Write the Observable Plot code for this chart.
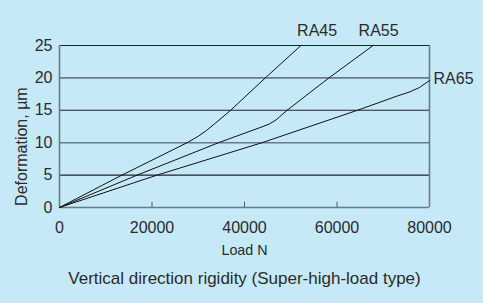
<!DOCTYPE html>
<html>
<head>
<meta charset="utf-8">
<script src="https://cdn.jsdelivr.net/npm/d3@7"></script>
<script src="https://cdn.jsdelivr.net/npm/@observablehq/plot@0.6"></script>
<style>
  html, body { margin: 0; padding: 0; background: #c6e9f8; }
  #chart svg { display: block; }
</style>
</head>
<body>
<div id="chart"></div>
<script>
const seriesNames = ["RA45", "RA55", "RA65"];
const loadRA45 = [0, 13500, 27600, 30000, 31800, 33500, 37000, 44500, 52200];
const defRA45  = [0, 5, 10, 11.0, 11.9, 12.9, 15, 20, 25];
const loadRA55 = [0, 16800, 34400, 44000, 45400, 46800, 49200, 58250, 67800];
const defRA55  = [0, 5, 10, 12.5, 12.9, 13.5, 15, 20, 25];
const loadRA65 = [0, 21100, 43800, 64400, 73000, 75600, 77800, 80000];
const defRA65  = [0, 5, 10, 15, 17.2, 17.8, 18.5, 19.6];
const xTicks = [0, 20000, 40000, 60000, 80000];
const innerTicks = [20000, 40000, 60000];
const yTicks = [0, 5, 10, 15, 20, 25];
const darkGrid = [25, 15, 5];
const grayGrid = [20, 10, 0];
const topLabels = [
  {name: "RA45", x: 55700, y: 27.3},
  {name: "RA55", x: 69000, y: 27.3}
];
const sideLabels = [{name: "RA65", x: 80000, y: 19.9}];
const xLabel = "Load N";
const yLabel = "Deformation, µm";
const yLabelAt = [{x: -8200, y: 9.4}];
const caption = "Vertical direction rigidity (Super-high-load type)";

const rows = [];
[[loadRA45, defRA45], [loadRA55, defRA55], [loadRA65, defRA65]].forEach(([xs, ys], i) => {
  xs.forEach((x, j) => rows.push({series: seriesNames[i], load: x, def: ys[j]}));
});

const ink = "#2b2b2b";
const chart = Plot.plot({
  width: 483,
  height: 303,
  marginLeft: 59,
  marginRight: 54,
  marginTop: 45,
  marginBottom: 96,
  style: {background: "#c6e9f8", fontFamily: "'Liberation Sans', Arial, sans-serif", color: ink},
  x: {domain: [0, 80000]},
  y: {domain: [0, 25]},
  marks: [
    Plot.ruleY(grayGrid, {stroke: "#6a7b88", strokeWidth: 1.6}),
    Plot.ruleY(darkGrid, {stroke: "#222", strokeWidth: 1.1}),
    Plot.ruleX([0, 80000], {stroke: "#6a7b88", strokeWidth: 1.6}),
    Plot.ruleX(innerTicks, {y1: 0, y2: 0.8, stroke: "#555", strokeWidth: 1}),
    Plot.axisX(xTicks, {tickSize: 0, tickPadding: 14, fontSize: 16, tickFormat: d => String(d), label: null, fill: ink}),
    Plot.axisY(yTicks, {tickSize: 0, tickPadding: 7, fontSize: 16, label: null, fill: ink}),
    Plot.line(rows, {x: "load", y: "def", z: "series", stroke: "#111", strokeWidth: 1}),
    Plot.text(topLabels, {x: "x", y: "y", text: "name", textAnchor: "middle", fontSize: 16, fill: ink}),
    Plot.text(sideLabels, {x: "x", y: "y", text: "name", textAnchor: "start", dx: 4, fontSize: 16, fill: ink}),
    Plot.text([xLabel], {frameAnchor: "bottom", dy: 47, fontSize: 14.3, fill: ink, text: d => d}),
    Plot.text([caption], {frameAnchor: "bottom", dy: 76, fontSize: 17, fill: ink, text: d => d}),
    Plot.text(yLabelAt, {x: "x", y: "y", rotate: -90, fontSize: 16, fill: ink, text: () => yLabel})
  ]
});
document.getElementById("chart").appendChild(chart);
</script>
</body>
</html>
